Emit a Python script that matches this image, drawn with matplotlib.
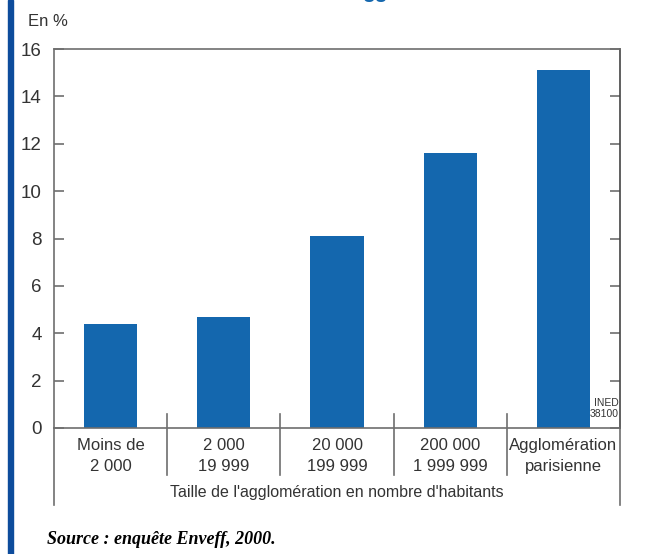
import matplotlib.pyplot as plt
from matplotlib.patches import Rectangle

# données
categories = ["Moins de\n2 000", "2 000\n19 999", "20 000\n199 999",
              "200 000\n1 999 999", "Agglomération\nparisienne"]
valeurs = [4.4, 4.7, 8.1, 11.6, 15.1]
yticks = [0, 2, 4, 6, 8, 10, 12, 14, 16]

bleu = "#1467ae"
gris = "#6e6e6e"
texte = "#333333"

plt.rcParams['font.family'] = ['Liberation Sans', 'DejaVu Sans']

fig = plt.figure(figsize=(6.47, 5.54), dpi=100)
W, H = 647, 554
ax = fig.add_axes([54 / W, (H - 428) / H, 566 / W, 379 / H])

# barre bleue à gauche
fig.patches.append(Rectangle((8 / W, 0), 5 / W, 1, transform=fig.transFigure,
                             color="#0d4c9c", zorder=0))

ax.bar(range(len(valeurs)), valeurs, width=0.47, color=bleu, zorder=2)
ax.set_xlim(-0.5, len(valeurs) - 0.5)
ax.set_ylim(0, 16)

ax.set_yticks(yticks)
ax.set_yticklabels([str(t) for t in yticks], fontsize=13.5, color=texte)
ax.tick_params(axis='y', direction='in', length=7, width=1.2, color=gris,
               left=True, right=True, pad=9)
ax.set_xticks([])

for cote in ['top', 'left', 'bottom']:
    ax.spines[cote].set_color(gris)
    ax.spines[cote].set_linewidth(1.2)
ax.spines['right'].set_color('#444444')
ax.spines['right'].set_linewidth(1.2)

trans = ax.get_xaxis_transform()
# prolongement des bords gauche et droit sous l'axe
for x in [-0.5, len(valeurs) - 0.5]:
    ax.plot([x, x], [0, -0.203], transform=trans, color=gris, lw=1.2, clip_on=False)
# séparateurs entre catégories
for i in range(1, len(valeurs)):
    ax.plot([i - 0.5, i - 0.5], [0.037, -0.124], transform=trans, color=gris,
            lw=1.2, clip_on=False)

for i, cat in enumerate(categories):
    ax.text(i, -0.026, cat, transform=trans, ha='center', va='top',
            fontsize=12, color=texte, linespacing=1.55)

ax.text(0.5, -0.17, "Taille de l'agglomération en nombre d'habitants",
        transform=ax.transAxes, ha='center', va='center', fontsize=11.5, color=texte)

ax.text(0.997, 0.025, "INED\n38100", transform=ax.transAxes, ha='right', va='bottom',
        fontsize=7.5, color=texte, linespacing=1.1)

fig.text(28 / W, 1 - 22 / H, "En %", ha='left', va='center', fontsize=12, color=texte)

fig.text(47 / W, 1 - 540 / H, "Source : enquête Enveff, 2000.", ha='left', va='center',
         fontsize=13, color='black', family='Liberation Serif', style='italic',
         weight='bold')

# bas du titre coupé en haut de l'image
fig.text(375 / W, 1 + 2.5 / H, "gg", ha='center', va='baseline', fontsize=15,
         color=bleu, weight='bold', family='Liberation Sans')

fig.savefig("out.png", dpi=100)
